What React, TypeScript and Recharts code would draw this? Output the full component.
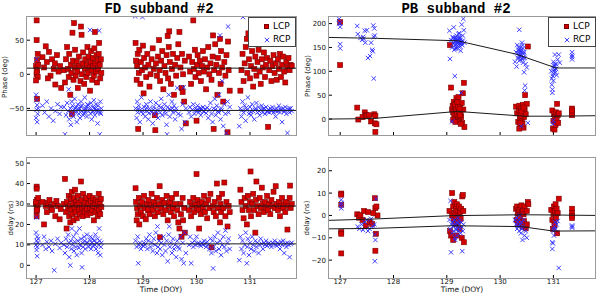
import React from "react";
import { ScatterChart, Scatter, XAxis, YAxis } from "recharts";

type Pt = [number, number];

const dayTicks = [127, 128, 129, 130, 131];
const fdPhaseTicks = [-50, 0, 50];
const fdDelayTicks = [0, 10, 20, 30, 40, 50];
const pbPhaseTicks = [0, 50, 100, 150, 200];
const pbDelayTicks = [-20, -10, 0, 10, 20];

// FD subband #2, phase (deg)
const fdPhaseLcp: Pt[] = [
  [127.01,79],[127.01,50],[127.02,21],[127.0,12],[127.02,6],[127.01,0],[127.03,-4],[127.0,-9],[127.02,-36],[127.03,30],[127.04,14],[127.01,3],
  [127.12,25],[127.15,10],[127.18,41],[127.2,18],[127.24,33],[127.27,-2],[127.3,22],[127.33,8],[127.36,-15],[127.39,28],[127.42,4],[127.45,12],[127.47,-20],[127.22,-6],[127.35,16],
  [127.52,6],[127.54,-12],[127.56,22],[127.58,40],[127.6,8],[127.61,-4],[127.62,30],[127.64,-30],[127.65,14],[127.66,2],[127.67,-58],[127.68,61],[127.69,20],[127.7,-8],[127.71,75],[127.72,10],[127.73,36],[127.74,-2],[127.76,18],[127.77,4],[127.78,-20],[127.8,26],[127.81,12],[127.83,-10],[127.84,70],[127.85,58],[127.86,0],[127.87,16],[127.88,32],[127.9,-14],[127.91,8],[127.92,22],[127.94,-4],[127.95,14],[127.96,40],[127.97,2],[127.98,26],[128.0,10],[128.01,-24],[128.02,18],[128.03,34],[128.04,6],[128.05,-8],[128.06,24],[128.07,12],[128.08,-2],[128.09,38],[128.1,62],[128.11,16],[128.12,4],[128.13,28],[128.14,-12],[128.15,20],[128.16,8],[128.17,30],[128.18,46],[128.19,14],[128.2,-6],[128.21,22],[128.22,2],
  [128.86,46],[128.87,20],[128.88,-8],[128.89,12],[128.9,30],[128.91,-80],[128.92,2],[128.93,36],[128.95,-14],[128.96,18],[128.98,6],[129.0,42],[129.01,-28],[129.02,24],[129.04,10],[129.06,-4],[129.08,30],[129.1,14],[129.12,-18],[129.14,0],[129.16,22],[129.18,38],[129.2,8],[129.22,-60],[129.23,-82],[129.24,16],[129.26,-2],[129.28,26],[129.3,50],[129.31,6],[129.32,-10],[129.34,20],[129.36,34],[129.38,-22],[129.4,12],[129.42,2],[129.44,28],[129.46,56],[129.47,-6],[129.48,40],[129.49,63],[129.5,18],[129.52,-14],[129.54,8],[129.56,30],[129.58,-30],[129.6,14],[129.62,-2],[129.64,24],[129.66,44],
  [129.68,62],[129.7,10],[129.72,-20],[129.73,30],[129.74,-26],[129.75,0],[129.77,-40],[129.78,20],[129.8,-72],
  [129.86,26],[129.88,4],[129.9,-14],[129.92,18],[129.94,79],[129.95,8],[129.97,36],[129.98,-4],[130.0,-68],[130.01,14],[130.02,28],[130.04,2],[130.06,20],[130.08,-10],[130.1,12],[130.12,34],[130.14,4],[130.16,22],[130.18,-22],[130.2,10],[130.22,40],[130.24,0],[130.26,16],[130.28,-8],[130.3,26],[130.31,57],[130.32,-80],[130.33,6],[130.35,44],[130.37,14],[130.39,-30],[130.4,24],[130.42,2],[130.44,52],[130.45,-14],[130.46,34],[130.48,10],[130.5,-40],[130.52,18],[130.54,-2],[130.56,28],[130.58,-85],[130.59,48],[130.6,6],[130.62,-24],
  [130.82,-24],[130.84,6],[130.86,30],[130.88,-10],[130.9,16],[130.92,40],[130.94,52],[130.95,2],[130.97,60],[130.98,22],[131.0,-6],[131.02,12],[131.04,34],[131.06,-18],[131.08,8],[131.1,26],[131.12,-2],[131.14,18],[131.16,36],[131.18,4],[131.2,-14],[131.22,22],[131.24,10],[131.26,32],[131.28,-4],[131.3,14],[131.32,24],[131.34,-77],[131.36,6],[131.38,20],[131.4,-10],[131.42,12],[131.44,28],[131.46,2],[131.48,16],[131.5,-8],[131.52,22],[131.54,8],[131.56,30],[131.58,-4],[131.6,14],[131.62,26],[131.64,4],[131.66,-12],[131.68,18],[131.7,10],[131.72,24],[131.74,6],[131.76,14],[131.78,12],
];

const fdPhaseRcp: Pt[] = [
  [127.01,22],[127.0,-30],[127.02,-45],[127.01,-52],[127.03,-58],[127.0,-64],[127.02,-70],[127.04,-50],[127.01,-38],
  [127.12,-46],[127.16,-56],[127.2,-40],[127.24,-62],[127.28,-50],[127.32,-68],[127.36,-54],[127.4,-44],[127.44,-58],[127.47,-48],
  [127.52,-48],[127.54,-88],[127.56,-60],[127.58,-42],[127.6,-54],[127.61,-22],[127.62,-66],[127.64,-50],[127.65,-74],[127.66,-58],[127.67,-40],[127.68,-46],[127.7,-62],[127.71,-52],[127.72,-36],[127.74,-56],[127.75,-48],[127.76,-70],[127.78,-44],[127.8,-58],[127.81,-50],[127.82,-64],[127.84,-40],[127.85,-54],[127.86,-46],[127.88,-60],[127.9,-52],[127.91,-34],[127.92,-56],[127.94,-48],[127.95,-62],[127.96,-44],[127.98,-54],[128.0,-50],[128.01,65],[128.02,-58],[128.03,-42],[128.04,-66],[128.06,-48],[128.07,-54],[128.08,-38],[128.1,-60],[128.11,-50],[128.12,-44],[128.14,-56],[128.15,-72],[128.16,-46],[128.17,-52],[128.18,64],[128.19,-88],[128.2,-40],[128.21,-58],[128.22,-50],
  [127.73,-50],[127.79,-53],[127.83,-47],[127.89,-57],[127.93,-51],[127.97,-45],[128.05,-55],[128.09,-49],[128.13,-53],[128.2,-56],
  [128.85,85],[128.86,-50],[128.88,-64],[128.89,-40],[128.9,-56],[128.92,-46],[128.94,-70],[128.95,-52],[128.97,-34],[128.99,84],[129.0,-58],[129.02,-48],[129.04,-62],[129.06,-44],[129.08,-54],[129.1,-66],[129.12,-50],[129.14,-40],[129.16,-56],[129.18,-72],[129.2,-48],[129.22,-58],[129.24,-42],[129.26,-52],[129.28,-64],[129.3,-46],[129.32,-56],[129.34,-36],[129.36,-60],[129.38,-50],[129.4,-44],[129.42,-58],[129.44,-74],[129.45,-88],[129.46,-48],[129.48,-30],[129.5,-62],[129.52,-52],[129.54,-40],[129.56,-56],[129.58,-46],[129.6,-66],[129.62,-50],[129.64,-20],[129.66,-58],
  [128.91,-51],[128.96,-55],[129.03,-53],[129.07,-49],[129.11,-57],[129.19,-52],[129.25,-55],[129.33,-49],[129.41,-54],[129.49,-51],[129.55,-50],[129.61,-54],
  [129.7,-60],[129.72,-80],[129.74,-44],[129.76,-19],[129.78,-70],[129.8,-50],
  [129.86,-56],[129.88,-48],[129.9,-62],[129.92,-52],[129.94,-44],[129.96,-58],[129.98,-50],[130.0,-54],[130.02,-46],[130.04,-56],[130.06,-50],[130.08,-60],[130.1,-52],[130.12,-48],[130.14,-55],[130.16,-51],[130.18,-57],[130.2,-49],[130.22,-64],[130.24,-52],[130.26,-42],[130.28,-58],[130.3,-70],[130.32,-50],[130.34,-36],[130.36,-60],[130.38,-46],[130.4,-54],[130.42,-30],[130.44,57],[130.45,-66],[130.46,-50],[130.48,-10],[130.5,-76],[130.52,-44],[130.54,-58],[130.56,-86],[130.58,-40],[130.59,70],[130.6,-56],[130.62,-48],
  [130.01,-52],[130.05,-53],[130.09,-50],[130.13,-54],[130.35,-52],[130.41,-56],[130.47,-53],
  [130.8,-76],[130.82,-50],[130.84,-62],[130.86,-40],[130.87,84],[130.88,-56],[130.9,-46],[130.92,-68],[130.94,-52],[130.96,-34],[130.98,-58],[131.0,-48],[131.02,-60],[131.04,-44],[131.06,-54],[131.08,-66],[131.1,-50],[131.12,-42],[131.14,-56],[131.16,-48],[131.18,-60],[131.2,-52],[131.22,-46],[131.24,-56],[131.26,-50],[131.28,-58],[131.3,-48],[131.32,-54],[131.34,-52],[131.36,-56],[131.38,-50],[131.4,-54],[131.42,-48],[131.44,-56],[131.46,-52],[131.48,-62],[131.5,-50],[131.52,-54],[131.54,-46],[131.56,-56],[131.58,-52],[131.6,-70],[131.62,-50],[131.64,-55],[131.66,-48],[131.68,-58],[131.7,-86],[131.72,-52],[131.74,-56],[131.76,-50],[131.78,-54],
  [130.85,-53],[130.93,-49],[131.01,-55],[131.09,-52],[131.17,-54],[131.25,-51],[131.33,-55],[131.41,-52],[131.49,-54],[131.57,-51],[131.65,-53],[131.73,-50],
];

// FD subband #2, delay (ns)
const fdDelayLcp: Pt[] = [
  [127.01,38.5],[127.01,37.5],[127.02,32],[127.0,30],[127.02,28],[127.01,26.5],[127.03,29.5],[127.0,31],[127.02,27],[127.04,33],[127.01,24],
  [127.12,31],[127.15,20],[127.18,29],[127.2,26],[127.22,30.5],[127.25,32],[127.28,28.5],[127.3,27],[127.33,30],[127.36,24],[127.38,31.5],[127.41,29],[127.44,22.5],[127.46,27.5],
  [127.52,30],[127.54,42.3],[127.56,26],[127.57,18],[127.58,31],[127.6,28],[127.61,34],[127.62,24],[127.63,29],[127.64,21],[127.65,32.5],[127.66,27],[127.67,36],[127.68,25],[127.69,30],[127.7,22],[127.71,33],[127.72,28],[127.73,37],[127.74,26],[127.75,31],[127.76,23],[127.77,29.5],[127.78,34],[127.8,27],[127.81,30.5],[127.82,25],[127.84,41],[127.85,32],[127.86,28],[127.87,24],[127.88,35],[127.9,29],[127.91,26],[127.92,31],[127.94,33],[127.95,27.5],[127.96,24.5],[127.98,30],[128.0,34],[128.01,28],[128.02,25.5],[128.03,31.5],[128.05,27],[128.06,33],[128.07,29],[128.08,22],[128.1,30.5],[128.11,26],[128.12,32],[128.14,28],[128.15,24],[128.16,31],[128.17,35],[128.18,27],[128.19,30],[128.2,25],[128.21,32.5],[128.22,28.5],
  [128.86,37.7],[128.87,31],[128.88,22],[128.89,28],[128.9,25],[128.92,33],[128.93,20],[128.95,29],[128.96,26],[128.98,31],[129.0,24],[129.02,34],[129.03,28],[129.05,22.5],[129.07,30],[129.09,27],[129.1,32],[129.12,25],[129.14,29.5],[129.16,35],[129.18,27],[129.2,31],[129.22,24],[129.24,29],[129.26,33],[129.28,26],[129.3,30],[129.31,38.7],[129.32,13.7],[129.34,28],[129.36,32],[129.38,25],[129.4,30.5],[129.42,27],[129.44,34],[129.46,22],[129.48,29],[129.5,31],[129.52,26],[129.54,33],[129.56,28],[129.58,24],[129.6,30],[129.62,35],[129.64,27],[129.66,21],
  [129.68,18],[129.7,30],[129.71,25],[129.72,14],[129.74,33],[129.75,22],[129.77,28],[129.78,16],
  [129.86,27],[129.88,31],[129.9,24],[129.92,29],[129.94,33],[129.96,26],[129.98,30],[130.0,44.6],[130.01,28],[130.02,32],[130.04,27],[130.05,18],[130.06,30],[130.08,25],[130.1,31],[130.12,28],[130.14,34],[130.16,26],[130.18,30],[130.2,23],[130.22,32],[130.24,28],[130.26,35],[130.28,8.8],[130.3,29],[130.32,26],[130.34,31],[130.36,24],[130.38,40],[130.4,28],[130.42,33],[130.44,21],[130.45,30],[130.46,26],[130.48,35],[130.5,28],[130.52,40.5],[130.54,24],[130.56,31],[130.58,19],[130.6,29],[130.62,26],
  [130.82,37],[130.84,31],[130.86,27],[130.88,23],[130.9,33],[130.92,29],[130.94,20],[130.96,34],[130.98,27],[131.0,31],[131.01,45.9],[131.02,24],[131.04,30],[131.06,35],[131.08,27],[131.1,16],[131.11,32],[131.12,41],[131.14,29],[131.16,25],[131.18,33],[131.2,28],[131.22,38],[131.24,30],[131.26,26],[131.28,31],[131.3,28],[131.32,34],[131.34,27],[131.36,30],[131.38,25],[131.4,32],[131.42,29],[131.44,36],[131.46,28],[131.48,38.7],[131.5,30],[131.52,27],[131.54,31],[131.56,24],[131.58,29],[131.6,33],[131.62,28],[131.64,30],[131.66,26],[131.68,31],[131.7,17.5],[131.72,29],[131.74,33],[131.75,39],[131.76,28],[131.78,30],
];

const fdDelayRcp: Pt[] = [
  [127.01,23.4],[127.0,16],[127.02,14],[127.01,12],[127.0,10],[127.02,9],[127.01,7.5],[127.03,11],[127.02,4.5],[127.04,13],
  [127.12,10],[127.15,14],[127.18,8],[127.2,11.5],[127.24,9],[127.28,12],[127.3,7],[127.34,-2.4],[127.36,10.5],[127.4,13],[127.44,8.5],[127.47,11],
  [127.52,10],[127.54,6],[127.56,13],[127.58,9],[127.6,15],[127.61,11],[127.62,4],[127.64,0],[127.65,12],[127.66,8],[127.67,18],[127.68,10],[127.7,14],[127.71,7],[127.72,11.5],[127.74,9],[127.75,16],[127.76,5],[127.78,12],[127.8,8.5],[127.81,18],[127.82,10],[127.84,13],[127.85,6],[127.86,-1],[127.87,11],[127.88,9],[127.9,14],[127.91,12],[127.92,8],[127.94,10.5],[127.95,15],[127.96,11],[127.98,9],[128.0,12.5],[128.01,10],[128.02,14],[128.03,8],[128.04,11],[128.06,13],[128.07,9.5],[128.08,12],[128.1,10],[128.11,15],[128.12,8],[128.14,11],[128.15,13],[128.16,6],[128.17,10],[128.18,18],[128.19,12],[128.2,5],[128.21,9],[128.22,11],
  [128.86,12],[128.88,9],[128.9,14],[128.91,1],[128.92,10],[128.94,11],[128.96,8],[128.98,10],[129.0,9.5],[129.02,11],[129.04,10],[129.06,13],[129.08,8],[129.1,12],[129.12,15],[129.14,9],[129.16,11],[129.18,7],[129.2,13],[129.22,10],[129.24,16],[129.26,6],[129.27,19],[129.28,9],[129.3,12],[129.32,8],[129.34,11],[129.36,5],[129.38,14],[129.4,10],[129.42,7],[129.44,12],[129.46,2],[129.48,15],[129.49,19],[129.5,9],[129.52,11],[129.54,6],[129.56,13],[129.58,8],[129.6,10],[129.62,4],[129.64,12],[129.66,9],
  [129.68,8],[129.7,14],[129.72,3],[129.74,11],[129.76,1],[129.78,16],[129.8,6],
  [129.86,10],[129.88,14],[129.9,1],[129.92,11],[129.94,9],[129.96,12],[129.98,10],[130.0,14],[130.02,10.5],[130.04,11],[130.06,10],[130.08,9.5],[130.1,11],[130.12,10],[130.14,12],[130.16,10.5],[130.18,9],[130.2,11.5],[130.22,10],[130.24,8],[130.26,13],[130.28,6],[130.3,12],[130.31,-1.5],[130.32,9],[130.34,14],[130.36,7],[130.38,11],[130.4,16],[130.42,8],[130.44,12],[130.46,5],[130.48,10],[130.5,14],[130.52,9],[130.54,17],[130.56,7],[130.58,11],[130.6,13],[130.62,8],
  [130.8,2.5],[130.82,14],[130.84,8],[130.86,12],[130.88,6],[130.9,10],[130.92,16],[130.94,1],[130.95,9],[130.96,13],[130.98,5],[131.0,11],[131.02,8],[131.04,14],[131.06,10],[131.08,7],[131.1,12],[131.12,9],[131.14,11],[131.16,6],[131.18,10],[131.2,13],[131.22,10.5],[131.24,8],[131.26,11],[131.28,10],[131.3,12],[131.32,9.5],[131.34,10.5],[131.36,11],[131.38,10],[131.4,9],[131.42,11],[131.44,10.5],[131.46,12],[131.48,10],[131.5,9.5],[131.52,11],[131.54,10],[131.56,8],[131.58,11.5],[131.6,10],[131.62,12],[131.64,6],[131.66,10.5],[131.68,9],[131.7,11],[131.72,10],[131.74,4],[131.76,10.5],[131.78,11],
];

// PB subband #2, phase (deg)
const pbPhaseLcp: Pt[] = [
  [127.0,203],[127.0,113],
  [127.32,24],[127.34,-1],[127.42,4],[127.46,14],[127.48,9],[127.5,6],[127.54,8],[127.58,-5],[127.64,10],[127.66,7],[127.65,-9],[127.68,-11],[127.66,-27],
  [129.06,155],[129.08,66],[129.1,20],[129.11,28],[129.12,14],[129.13,36],[129.14,8],[129.15,24],[129.16,2],[129.17,32],[129.18,16],[129.19,40],[129.2,22],[129.21,10],[129.22,30],[129.23,-4],[129.24,18],[129.25,26],[129.26,12],[129.27,4],[129.28,34],[129.29,-8],[129.3,54],[129.31,20],[129.32,76],[129.33,-17],[129.12,-2],[129.18,44],[129.22,6],[129.26,-10],
  [129.15,30],[129.17,20],[129.19,10],[129.21,26],[129.23,14],[129.25,8],[129.2,36],[129.16,-6],[129.24,22],[129.22,46],
  [130.3,26],[130.32,12],[130.34,-6],[130.35,18],[130.36,28],[130.37,2],[130.38,-14],[130.39,22],[130.4,8],[130.41,-2],[130.42,14],[130.43,30],[130.44,-18],[130.45,4],[130.46,20],[130.47,50],[130.48,10],[130.5,32],[130.52,152],[130.42,-10],[130.38,6],
  [130.36,-20],[130.4,16],[130.44,24],[130.38,-8],
  [130.98,18],[130.99,-20],[131.0,-4],[131.01,10],[131.02,-22],[131.03,4],[131.04,-12],[131.05,14],[131.06,0],[131.07,32],[131.08,8],[131.1,12],[131.09,-8],
  [131.35,22],[131.35,16],[131.35,12],[131.35,8],[131.35,18],
];

const pbPhaseRcp: Pt[] = [
  [126.98,210],[126.98,200],[127.0,193],[127.0,157],[127.0,148],[127.0,201],
  [127.32,195],[127.33,178],[127.38,170],[127.41,166],[127.43,172],[127.46,185],[127.5,186],[127.47,160],[127.52,128],[127.56,132],[127.58,160],[127.6,145],[127.61,142],[127.62,196],[127.64,190],[127.63,172],[127.63,85],[127.65,175],[127.44,168],
  [129.05,185],[129.06,126],[129.08,165],[129.1,150],[129.11,172],[129.12,158],[129.13,192],[129.14,145],[129.15,168],[129.16,155],[129.17,162],[129.18,175],[129.19,148],[129.2,160],[129.21,166],[129.22,152],[129.23,180],[129.24,158],[129.25,170],[129.26,143],[129.27,162],[129.28,198],[129.29,155],[129.3,175],[129.31,210],[129.32,186],[129.33,160],[129.15,90],[129.27,55],[129.1,-5],[129.2,163],[129.22,168],[129.18,156],
  [129.14,162],[129.16,170],[129.17,150],[129.19,165],[129.21,158],[129.23,164],[129.24,172],[129.25,152],[129.26,166],[129.28,160],[129.2,154],[129.22,178],[129.18,168],[129.16,147],[129.24,162],[129.3,164],[129.12,170],[129.27,157],
  [130.28,120],[130.3,140],[130.31,110],[130.32,155],[130.33,128],[130.34,145],[130.35,133],[130.36,187],[130.37,138],[130.38,125],[130.39,150],[130.4,132],[130.41,160],[130.42,140],[130.43,118],[130.44,136],[130.45,98],[130.46,128],[130.48,115],[130.5,108],[130.47,70],[130.46,60],[130.52,-8],[130.4,-15],[130.36,145],[130.42,128],
  [130.33,138],[130.35,150],[130.37,130],[130.38,142],[130.39,135],[130.4,145],[130.41,126],[130.43,148],[130.44,130],[130.36,122],[130.45,140],[130.42,155],
  [130.96,100],[130.97,85],[130.97,72],[130.98,62],[130.98,55],[130.99,108],[131.0,95],[131.0,120],[131.01,112],[131.02,104],[131.03,135],[131.04,98],[131.05,115],[131.06,92],[131.08,125],[131.1,135],[131.12,118],[130.99,-10],[131.0,-3],
  [130.99,90],[131.0,80],[131.01,100],[131.02,115],[131.03,110],[131.05,105],
  [131.35,140],[131.35,134],[131.35,130],[131.35,125],
];

// PB subband #2, delay (ns)
const pbDelayLcp: Pt[] = [
  [127.02,9.8],[127.02,9.3],[127.02,4.8],[127.02,-7.5],[127.02,-8.2],[127.02,-17],
  [127.32,0.5],[127.35,-1],[127.38,0.2],[127.42,-2],[127.45,2],[127.48,-4.5],[127.52,1.5],[127.55,-3],[127.6,-3.8],[127.65,7.7],[127.66,3.3],[127.68,4],[127.67,-8.2],[127.66,-15.8],[127.7,0],[127.62,1],
  [129.05,2],[129.06,-7],[129.08,-9],[129.1,10],[129.1,0],[129.12,4],[129.13,-2],[129.14,6],[129.15,1],[129.16,-4],[129.17,3],[129.18,-1],[129.19,5],[129.2,2],[129.21,-3],[129.22,0],[129.23,4],[129.24,-6],[129.25,1.5],[129.26,-1.5],[129.27,3],[129.28,-10],[129.29,8.5],[129.3,9.2],[129.31,2],[129.32,-12],[129.18,-9],[129.12,-11],
  [130.3,3],[130.31,-2],[130.32,4],[130.33,1],[130.34,-4],[130.35,2.5],[130.36,0],[130.37,-1],[130.38,3.5],[130.39,-3],[130.4,4.5],[130.41,1.5],[130.42,-5],[130.43,2],[130.44,0.5],[130.45,-2.5],[130.46,4],[130.48,-5.8],[130.5,2],[130.52,6],[130.53,5],[130.5,-4],
  [130.96,2.5],[130.98,-2],[130.99,-6],[131.0,0.5],[131.01,4],[131.02,-3],[131.03,2],[131.04,5],[131.05,-1],[131.06,3],[131.08,1],[131.1,7.5],[131.07,-8],[131.02,-4.5],
  [131.35,3],[131.35,1],[131.35,-0.2],[131.35,-1.2],
];

const pbDelayRcp: Pt[] = [
  [127.02,7],[127.02,5.5],[127.02,4.5],[127.02,3.2],
  [127.33,-5],[127.36,-6],[127.4,-4],[127.43,-6.5],[127.46,-3],[127.5,-2],[127.52,-7],[127.55,-6],[127.58,-1.5],[127.62,-5],[127.65,-8.5],[127.66,-11],[127.65,-20.5],[127.67,7.5],[127.64,-4],
  [129.05,-2],[129.06,-6],[129.07,6.5],[129.08,-16.5],[129.09,-4],[129.1,-8],[129.11,-3],[129.12,-5],[129.13,-7],[129.14,-2],[129.15,-10],[129.16,-4],[129.17,-6],[129.18,-3],[129.19,-9],[129.2,-5],[129.21,-1],[129.22,-7],[129.23,-4],[129.24,-2.5],[129.25,-6],[129.26,-8],[129.27,-3],[129.28,-5],[129.29,-16],[129.3,-7],[129.31,-4],[129.16,-11],[129.2,-3.5],[129.22,-5.5],[129.18,-6.5],[129.14,-4.5],
  [130.28,-2],[130.3,-4],[130.31,-1],[130.32,-6],[130.33,-3],[130.34,-5],[130.35,-2],[130.36,-7],[130.37,0],[130.38,-4],[130.39,-8],[130.4,-3],[130.41,-6],[130.42,-11],[130.43,-5],[130.44,-2],[130.46,-9],[130.48,-7],[130.5,-10],[130.35,-4.5],
  [130.98,-12],[130.98,-15],[130.99,-12.5],[131.0,-7],[131.01,-9],[131.02,-5],[131.03,-3],[131.04,-6],[131.06,-4],[131.08,-2.5],[131.1,-23.5],[131.0,-6],
  [131.35,-4.5],[131.35,-5],[131.35,-5.5],
];

// fitted curves
const fdXRange: [number, number] = [126.83, 131.86];
const pbXRange: [number, number] = [126.79, 131.78];
const fdPhaseFitL: Pt[] = [[126.83, 9], [131.86, 9]];
const fdPhaseFitR: Pt[] = [[126.83, -53], [131.86, -53]];
const fdDelayFitL: Pt[] = [[126.83, 29], [131.86, 29]];
const fdDelayFitR: Pt[] = [[126.83, 10.5], [131.86, 10.5]];
const pbPhaseFitL: Pt[] = [[126.79, 0], [127.6, 1], [129.2, 16], [130.45, 6], [131.05, 6], [131.78, 7]];
const pbPhaseFitR: Pt[] = [[126.79, 171], [127.7, 169], [129.2, 164], [130.3, 136], [131.05, 107], [131.78, 107]];
const pbDelayFitL: Pt[] = [[126.79, -2.2], [127.64, -1.6], [129.1, -0.1], [130.4, 0.3], [131.0, 0.2], [131.78, 0]];
const pbDelayFitR: Pt[] = [[126.79, -6], [127.64, -5.8], [129.1, -4.6], [130.4, -5], [131.0, -7], [131.78, -6.9]];

const toObj = (arr: Pt[]) => arr.map(([x, y]) => ({ x, y }));
const fmt = (v: number) => String(v).replace("-", "\u2212");

const RED = "#d40000";
const RED_EDGE = "#7a0000";
const BLUE = "#2b2bff";

const tickStyle = { fontSize: 7, fill: "#111", fontFamily: "DejaVu Sans" };

function Square(props: any) {
  const { cx, cy } = props;
  if (cx == null || cy == null) return <g />;
  return <rect x={cx - 2.5} y={cy - 2.5} width={5} height={5} fill={RED} stroke={RED_EDGE} strokeWidth={0.6} />;
}

function Cross(props: any) {
  const { cx, cy } = props;
  if (cx == null || cy == null) return <g />;
  const s = 2.2;
  return (
    <path
      d={`M${cx - s},${cy - s}L${cx + s},${cy + s}M${cx - s},${cy + s}L${cx + s},${cy - s}`}
      stroke={BLUE}
      strokeWidth={0.9}
      fill="none"
    />
  );
}

const NoDot = () => <g />;

type PanelProps = {
  left: number;
  top: number;
  w: number;
  h: number;
  m: { top: number; right: number; left: number; bottom: number };
  yw: number;
  xh: number;
  xDomain: [number, number];
  yDomain: [number, number];
  yTicks: number[];
  xLabels: boolean;
  lcp: Pt[];
  rcp: Pt[];
  fits: Pt[][];
};

function Panel(p: PanelProps) {
  const plotL = p.left + p.m.left + p.yw;
  const plotT = p.top + p.m.top;
  const plotW = p.w - p.m.left - p.yw - p.m.right;
  const plotH = p.h - p.m.top - p.m.bottom - p.xh;
  return (
    <>
      <div style={{ position: "absolute", left: p.left, top: p.top }}>
        <ScatterChart width={p.w} height={p.h} margin={p.m}>
          <XAxis
            type="number"
            dataKey="x"
            domain={p.xDomain}
            ticks={dayTicks}
            allowDataOverflow
            height={p.xh}
            axisLine={false}
            tickSize={-3}
            tickMargin={4}
            tickLine={{ stroke: "#000" }}
            tick={tickStyle}
            tickFormatter={(v: number) => (p.xLabels ? String(v) : "")}
          />
          <YAxis
            type="number"
            dataKey="y"
            domain={p.yDomain}
            ticks={p.yTicks}
            allowDataOverflow
            width={p.yw}
            axisLine={false}
            tickSize={-3}
            tickMargin={6}
            tickLine={{ stroke: "#000" }}
            tick={tickStyle}
            tickFormatter={fmt}
          />
          <Scatter data={toObj(p.lcp)} shape={Square} isAnimationActive={false} />
          <Scatter data={toObj(p.rcp)} shape={Cross} isAnimationActive={false} />
          {p.fits.map((f, i) => (
            <Scatter
              key={i}
              data={toObj(f)}
              shape={NoDot}
              line={{ stroke: "#1a1a1a", strokeWidth: 1 }}
              isAnimationActive={false}
            />
          ))}
        </ScatterChart>
      </div>
      <div
        style={{
          position: "absolute",
          left: plotL - 1,
          top: plotT - 1,
          width: plotW,
          height: plotH,
          border: "1.5px solid #9a9a9a",
          pointerEvents: "none",
        }}
      />
    </>
  );
}

function Label({ x, y, text, rotate, size = 7 }: { x: number; y: number; text: string; rotate?: boolean; size?: number }) {
  return (
    <div
      style={{
        position: "absolute",
        left: x,
        top: y,
        transform: `translate(-50%, -50%)${rotate ? " rotate(-90deg)" : ""}`,
        fontFamily: "DejaVu Sans",
        fontSize: size,
        color: "#111",
        whiteSpace: "nowrap",
        lineHeight: 1,
      }}
    >
      {text}
    </div>
  );
}

function Title({ x, text }: { x: number; text: string }) {
  return (
    <div
      style={{
        position: "absolute",
        left: x,
        top: 9,
        transform: "translate(-50%, -50%)",
        fontFamily: "'Liberation Mono', 'DejaVu Sans Mono', monospace",
        fontWeight: "bold",
        fontSize: 14,
        whiteSpace: "pre",
        lineHeight: 1,
        color: "#000",
      }}
    >
      {text}
    </div>
  );
}

function LegendBox({ left, top }: { left: number; top: number }) {
  const txt = { position: "absolute", left: 24, lineHeight: 1, fontSize: 9 } as const;
  return (
    <div
      style={{
        position: "absolute",
        left,
        top,
        width: 48,
        height: 30,
        border: "1px solid #444",
        background: "#fff",
        fontFamily: "DejaVu Sans",
        boxSizing: "border-box",
        color: "#000",
      }}
    >
      <div style={{ position: "absolute", left: 15, top: 6, width: 5, height: 5, background: RED, border: `0.6px solid ${RED_EDGE}`, boxSizing: "border-box" }} />
      <svg style={{ position: "absolute", left: 15, top: 19 }} width={6} height={6}>
        <path d="M0.8,0.8L5.2,5.2M0.8,5.2L5.2,0.8" stroke={BLUE} strokeWidth={0.9} />
      </svg>
      <div style={{ ...txt, top: 4 }}>LCP</div>
      <div style={{ ...txt, top: 17 }}>RCP</div>
    </div>
  );
}

export default function App() {
  return (
    <div style={{ position: "absolute", left: 0, top: 0, width: 600, height: 294, background: "#fff", overflow: "hidden" }}>
      <Panel
        left={0} top={0} w={300} h={145}
        m={{ top: 17, right: 4, left: 0, bottom: 0 }} yw={27} xh={10}
        xDomain={fdXRange} yDomain={[-89, 84]} yTicks={fdPhaseTicks} xLabels={false}
        lcp={fdPhaseLcp} rcp={fdPhaseRcp} fits={[fdPhaseFitL, fdPhaseFitR]}
      />
      <Panel
        left={0} top={145} w={300} h={149}
        m={{ top: 13, right: 4, left: 0, bottom: 0 }} yw={27} xh={16}
        xDomain={fdXRange} yDomain={[-6.2, 52.5]} yTicks={fdDelayTicks} xLabels
        lcp={fdDelayLcp} rcp={fdDelayRcp} fits={[fdDelayFitL, fdDelayFitR]}
      />
      <Panel
        left={300} top={0} w={300} h={145}
        m={{ top: 17, right: 5, left: 0, bottom: 0 }} yw={29} xh={10}
        xDomain={pbXRange} yDomain={[-33.4, 213.8]} yTicks={pbPhaseTicks} xLabels={false}
        lcp={pbPhaseLcp} rcp={pbPhaseRcp} fits={[pbPhaseFitL, pbPhaseFitR]}
      />
      <Panel
        left={300} top={145} w={300} h={149}
        m={{ top: 13, right: 5, left: 0, bottom: 0 }} yw={29} xh={16}
        xDomain={pbXRange} yDomain={[-28, 25.7]} yTicks={pbDelayTicks} xLabels
        lcp={pbDelayLcp} rcp={pbDelayRcp} fits={[pbDelayFitL, pbDelayFitR]}
      />

      <Title x={159} text="FD subband #2" />
      <Title x={456} text="PB subband #2" />

      <Label x={5} y={77} text="Phase (deg)" rotate />
      <Label x={11} y={218} text="delay (ns)" rotate />
      <Label x={308} y={76} text="Phase (deg)" rotate />
      <Label x={307} y={218} text="delay (ns)" rotate />
      <Label x={161} y={290} text="Time (DOY)" size={7.5} />
      <Label x={462} y={290} text="Time (DOY)" size={7.5} />

      <LegendBox left={248} top={17} />
      <LegendBox left={548} top={17} />
    </div>
  );
}
